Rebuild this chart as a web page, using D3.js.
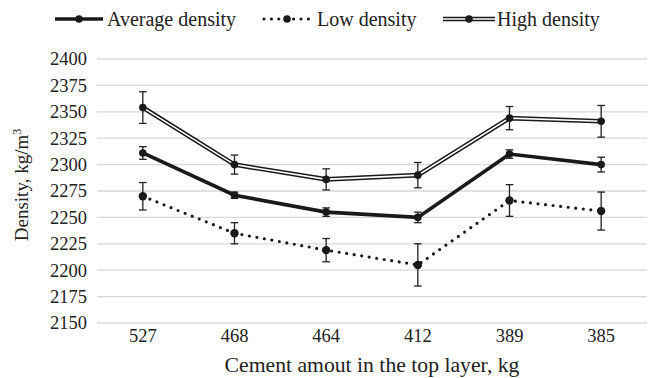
<!DOCTYPE html>
<html>
<head>
<meta charset="utf-8">
<script src="https://cdn.jsdelivr.net/npm/d3@7"></script>
<style>
body { margin: 0; background: #fff; }
svg text { font-family: "Liberation Serif", "Times New Roman", serif !important; fill: #222; }
</style>
</head>
<body>
<div id="chart"></div>
<script>
var cement = ["527", "468", "464", "412", "389", "385"];
var yTicks = [2150, 2175, 2200, 2225, 2250, 2275, 2300, 2325, 2350, 2375, 2400];

var avgDensity = [2311, 2271, 2255, 2250, 2310, 2300];
var avgErr = [6, 3, 4, 5, 4, 7];
var lowDensity = [2270, 2235, 2219, 2205, 2266, 2256];
var lowErr = [13, 10, 11, 20, 15, 18];
var highDensity = [2354, 2300, 2286, 2290, 2344, 2341];
var highErr = [15, 9, 10, 12, 11, 15];

var svgWidth = 651;
var svgHeight = 378;
var margin = {top: 59, right: 4, bottom: 55, left: 97};
var chartWidth = svgWidth - margin.left - margin.right;
var chartHeight = svgHeight - margin.top - margin.bottom;

var svg = d3.select("#chart")
    .append("svg")
    .attr("width", svgWidth)
    .attr("height", svgHeight);

var chartGroup = svg.append("g")
    .attr("transform", `translate(${margin.left},${margin.top})`);

var xScale = d3.scaleBand()
    .domain(cement)
    .range([0, chartWidth]);
var yScale = d3.scaleLinear()
    .domain([2150, 2400])
    .range([chartHeight, 0]);

function cx(d, i) { return xScale(cement[i]) + xScale.bandwidth() / 2; }

// gridlines
chartGroup.append("g")
    .selectAll("line")
    .data(yTicks)
    .enter()
    .append("line")
    .attr("x1", 0)
    .attr("x2", chartWidth)
    .attr("y1", d => yScale(d))
    .attr("y2", d => yScale(d))
    .attr("stroke", "#d9d9d9")
    .attr("stroke-width", 1.3);

var leftAxis = d3.axisLeft(yScale).tickValues(yTicks).tickFormat(d3.format("d")).tickSize(0).tickPadding(10);
var yAxisG = chartGroup.append("g").call(leftAxis);
yAxisG.select(".domain").remove();
yAxisG.attr("font-family", "Liberation Serif").attr("font-size", 18.5)
    .selectAll("text").attr("fill", "#222");

var bottomAxis = d3.axisBottom(xScale).tickSize(0).tickPadding(5.5);
var xAxisG = chartGroup.append("g")
    .attr("transform", `translate(0, ${chartHeight})`)
    .call(bottomAxis);
xAxisG.select(".domain").remove();
xAxisG.attr("font-family", "Liberation Serif").attr("font-size", 18.5)
    .selectAll("text").attr("fill", "#222");

var line = d3.line().x(cx).y(d => yScale(d));

function errorBars(vals, errs) {
    var g = chartGroup.append("g").attr("stroke", "#222").attr("stroke-width", 1.3);
    vals.forEach(function(v, i) {
        var x = cx(v, i);
        g.append("line").attr("x1", x).attr("x2", x)
            .attr("y1", yScale(v - errs[i])).attr("y2", yScale(v + errs[i]));
        [v - errs[i], v + errs[i]].forEach(function(e) {
            g.append("line").attr("x1", x - 3.8).attr("x2", x + 3.8)
                .attr("y1", yScale(e)).attr("y2", yScale(e));
        });
    });
}

function markers(vals, r) {
    chartGroup.append("g")
        .selectAll("circle")
        .data(vals)
        .enter()
        .append("circle")
        .attr("cx", cx)
        .attr("cy", d => yScale(d))
        .attr("r", r)
        .attr("fill", "#1a1a1a");
}

// average
chartGroup.append("path").datum(avgDensity)
    .attr("d", line).attr("fill", "none")
    .attr("stroke", "#1a1a1a").attr("stroke-width", 3.6);
errorBars(avgDensity, avgErr);
markers(avgDensity, 3.8);

// low
chartGroup.append("path").datum(lowDensity)
    .attr("d", line).attr("fill", "none")
    .attr("stroke", "#1a1a1a").attr("stroke-width", 3.2)
    .attr("stroke-linecap", "round").attr("stroke-dasharray", "0 7.6");
errorBars(lowDensity, lowErr);
markers(lowDensity, 4.2);

// high (double line)
chartGroup.append("path").datum(highDensity)
    .attr("d", line).attr("fill", "none")
    .attr("stroke", "#1a1a1a").attr("stroke-width", 4.6);
chartGroup.append("path").datum(highDensity)
    .attr("d", line).attr("fill", "none")
    .attr("stroke", "#fff").attr("stroke-width", 1.6);
errorBars(highDensity, highErr);
markers(highDensity, 3.8);

// legend
var legend = svg.append("g").attr("transform", "translate(0,19)");
function legendLine(x1, x2, style) {
    if (style === "double") {
        legend.append("line").attr("x1", x1).attr("x2", x2).attr("stroke", "#1a1a1a").attr("stroke-width", 4.6);
        legend.append("line").attr("x1", x1).attr("x2", x2).attr("stroke", "#fff").attr("stroke-width", 1.6);
    } else if (style === "dot") {
        legend.append("line").attr("x1", x1).attr("x2", x2).attr("stroke", "#1a1a1a").attr("stroke-width", 3.2)
            .attr("stroke-linecap", "round").attr("stroke-dasharray", "0 7.4");
    } else {
        legend.append("line").attr("x1", x1).attr("x2", x2).attr("stroke", "#1a1a1a").attr("stroke-width", 3.6);
    }
    legend.append("circle").attr("cx", (x1 + x2) / 2).attr("r", 3.8).attr("fill", "#1a1a1a");
}
legendLine(55, 103, "solid");
legendLine(264, 310, "dot");
legendLine(443, 495, "double");
[["Average density", 107], ["Low density", 317], ["High density", 497]].forEach(function(d) {
    legend.append("text").attr("x", d[1]).attr("y", 7).attr("font-size", 20).text(d[0]);
});

// axis titles
svg.append("text")
    .attr("x", margin.left + chartWidth / 2)
    .attr("y", 372)
    .attr("text-anchor", "middle")
    .attr("font-size", 21.7)
    .text("Cement amout in the top layer, kg");

var yTitle = svg.append("text")
    .attr("transform", "translate(28,185) rotate(-90)")
    .attr("text-anchor", "middle")
    .attr("font-size", 19);
yTitle.append("tspan").text("Density, kg/m");
yTitle.append("tspan").attr("font-size", 12).attr("dy", -7).text("3");
</script>
</body>
</html>
